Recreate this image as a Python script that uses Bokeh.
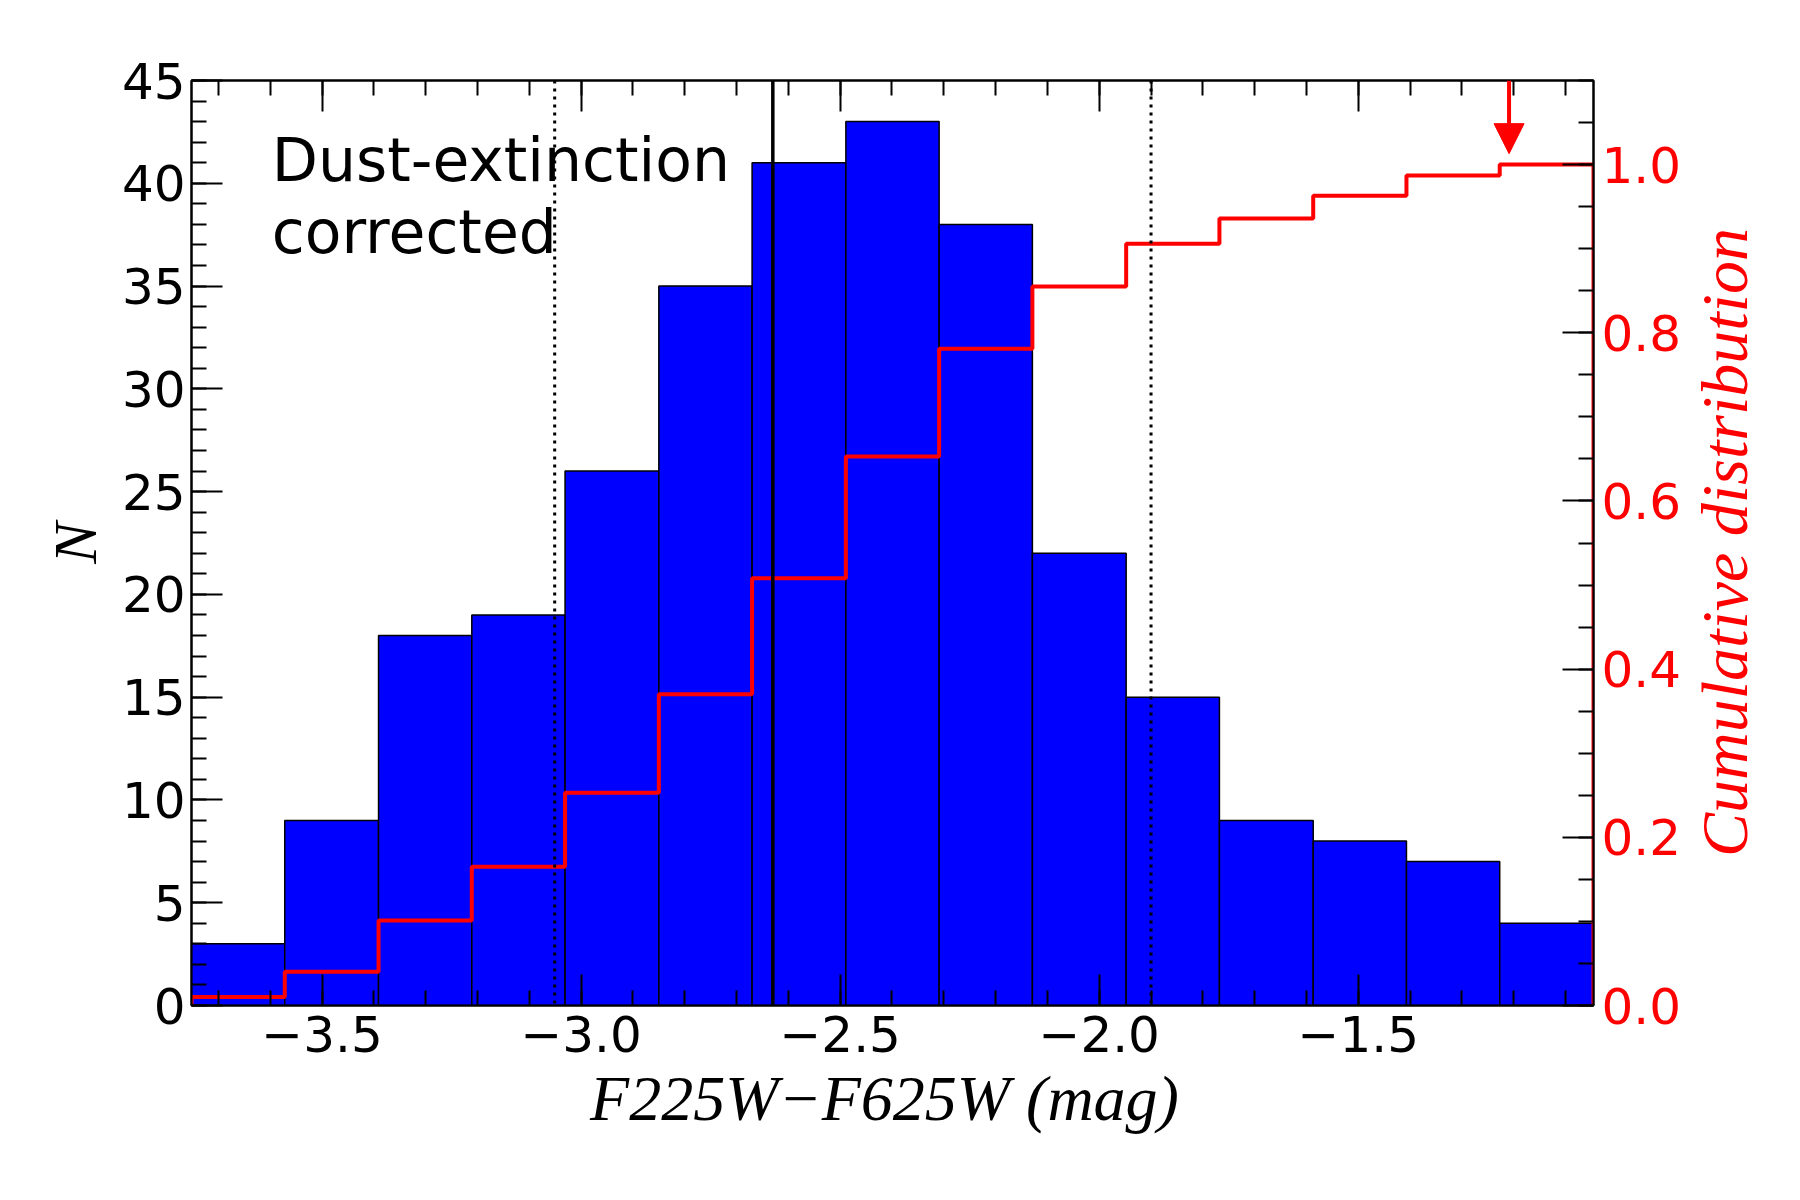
import numpy as np
from bokeh.plotting import figure
from bokeh.layouts import row
from bokeh.models import (Range1d, LinearAxis, SingleIntervalTicker, CustomJSTickFormatter,
                          PrintfTickFormatter, Span, Arrow, NormalHead)
from bokeh.core.properties import value
from bokeh.embed import file_html
from bokeh.resources import INLINE

# ---- data ----
bin_edges = [-3.752, -3.572, -3.391, -3.211, -3.031, -2.850, -2.670, -2.489,
             -2.309, -2.129, -1.948, -1.768, -1.587, -1.407, -1.227, -1.046]
counts = [3, 9, 18, 19, 26, 35, 41, 43, 38, 22, 15, 9, 8, 7, 4]
cum_frac = [0.010, 0.040, 0.101, 0.165, 0.253, 0.370, 0.508, 0.653,
            0.781, 0.855, 0.906, 0.936, 0.963, 0.987, 1.000]
median_line = -2.630
dotted_lines = [-3.051, -1.900]
arrow_x = -1.209
arrow_y_top = 1.10
arrow_y_tip = 1.013
note_lines = ["Dust-extinction", "corrected"]
note_x = [-3.597, -3.597]
note_y = [41.15, 37.65]
right_title = ["Cumulative distribution"]

x_range = (-3.752, -1.046)
y_range = (0, 45)
cum_range = (0, 1.1)

TICK_FONT = "DejaVu Sans"
SERIF = "Liberation Serif"

# layout (canvas pixels)
W, H = 1800, 1200
FRAME_L, FRAME_R, FRAME_T, FRAME_B = 191, 1593, 80, 1005
MAIN_W = 1684
SIDE_W = W - MAIN_W
TITLE_CX, TITLE_CY = 1724, 542

p = figure(width=MAIN_W, height=H, output_backend="svg", toolbar_location=None,
           x_range=Range1d(*x_range), y_range=Range1d(*y_range),
           min_border_left=FRAME_L, min_border_right=MAIN_W - FRAME_R,
           min_border_top=FRAME_T, min_border_bottom=H - FRAME_B,
           background_fill_color="white", border_fill_color="white")
p.grid.visible = False
p.outline_line_color = "black"
p.outline_line_width = 2

p.extra_y_ranges = {"cum": Range1d(*cum_range)}

# histogram bars
p.quad(left=bin_edges[:-1], right=bin_edges[1:], bottom=0, top=counts,
       fill_color="#0000ff", line_color="black", line_width=1.5)

# cumulative step outline
xs = [bin_edges[0]]
ys = [0.0]
for i, c in enumerate(cum_frac):
    xs += [bin_edges[i], bin_edges[i + 1]]
    ys += [c, c]
xs.append(bin_edges[-1])
ys.append(0.0)
p.line(xs, ys, y_range_name="cum", line_color="red", line_width=4)

# reference lines
p.add_layout(Span(location=median_line, dimension="height", line_color="black", line_width=3.5))
for d in dotted_lines:
    p.add_layout(Span(location=d, dimension="height", line_color="black",
                      line_width=3, line_dash="3 5"))

# arrow
p.add_layout(Arrow(x_start=arrow_x, y_start=arrow_y_top, x_end=arrow_x, y_end=arrow_y_tip,
                   y_range_name="cum", line_color="red", line_width=4,
                   end=NormalHead(size=30, fill_color="red", line_color="red", line_width=1)))

# annotation text
p.text(x=note_x, y=note_y, text=note_lines, text_font=value(TICK_FONT),
       text_font_size="60px", text_baseline="alphabetic", text_align="left", text_color="black")

minus_fmt = CustomJSTickFormatter(code="""
    const s = Math.abs(tick).toFixed(1);
    return (tick < 0 ? "\u2212" : "") + s;
""")


def style_axis(ax):
    ax.axis_line_width = 2
    ax.axis_line_color = "black"
    ax.major_tick_in = 31
    ax.major_tick_out = 0
    ax.minor_tick_in = 15
    ax.minor_tick_out = 0
    ax.major_tick_line_width = 2
    ax.minor_tick_line_width = 2
    ax.major_tick_line_color = "black"
    ax.minor_tick_line_color = "black"
    ax.major_label_text_font = TICK_FONT
    ax.major_label_text_font_size = "50px"
    ax.major_label_text_color = "black"


# bottom axis
xa = p.xaxis[0]
xa.ticker = SingleIntervalTicker(interval=0.5, num_minor_ticks=5)
xa.formatter = minus_fmt
style_axis(xa)
xa.major_label_standoff = 10
xa.axis_label = "F225W\u2212F625W  (mag)"
xa.axis_label_text_font = SERIF
xa.axis_label_text_font_style = "italic"
xa.axis_label_text_font_size = "64px"
xa.axis_label_text_color = "black"
xa.axis_label_standoff = 8

# left axis
ya = p.yaxis[0]
ya.ticker = SingleIntervalTicker(interval=5, num_minor_ticks=5)
style_axis(ya)
ya.major_label_standoff = 6
ya.axis_label = "N"
ya.axis_label_text_font = SERIF
ya.axis_label_text_font_style = "italic"
ya.axis_label_text_font_size = "62px"
ya.axis_label_text_color = "black"
ya.axis_label_standoff = 10

# top axis (ticks only)
ta = LinearAxis(ticker=SingleIntervalTicker(interval=0.5, num_minor_ticks=5),
                formatter=CustomJSTickFormatter(code="return '';"))
style_axis(ta)
ta.major_label_text_font_size = "0px"
ta.major_label_standoff = 0
p.add_layout(ta, "above")

# right axis (cumulative)
ra = LinearAxis(y_range_name="cum", ticker=SingleIntervalTicker(interval=0.2, num_minor_ticks=4),
                formatter=PrintfTickFormatter(format="%.1f"))
style_axis(ra)
ra.major_label_text_color = "red"
ra.major_label_standoff = 8
p.add_layout(ra, "right")

# side panel for the right-axis title (its frame is aligned with the main frame)
s = figure(width=SIDE_W, height=H, output_backend="svg", toolbar_location=None,
           x_range=Range1d(MAIN_W, W), y_range=Range1d(*cum_range),
           x_axis_location=None, y_axis_location=None,
           min_border_left=0, min_border_right=0, min_border_top=0, min_border_bottom=0,
           background_fill_color="white", border_fill_color="white")
s.grid.visible = False
s.outline_line_color = None
px_per_unit = (FRAME_B - FRAME_T) / (cum_range[1] - cum_range[0])
title_y = (FRAME_B - TITLE_CY) / px_per_unit
s.text(x=[TITLE_CX], y=[title_y], text=right_title, angle=np.pi / 2,
       text_align="center", text_baseline="middle",
       text_font=value(SERIF), text_font_style="italic", text_font_size="66px",
       text_color="red")

layout = row(p, s, spacing=0)
open("out.html", "w").write(file_html(layout, INLINE))
